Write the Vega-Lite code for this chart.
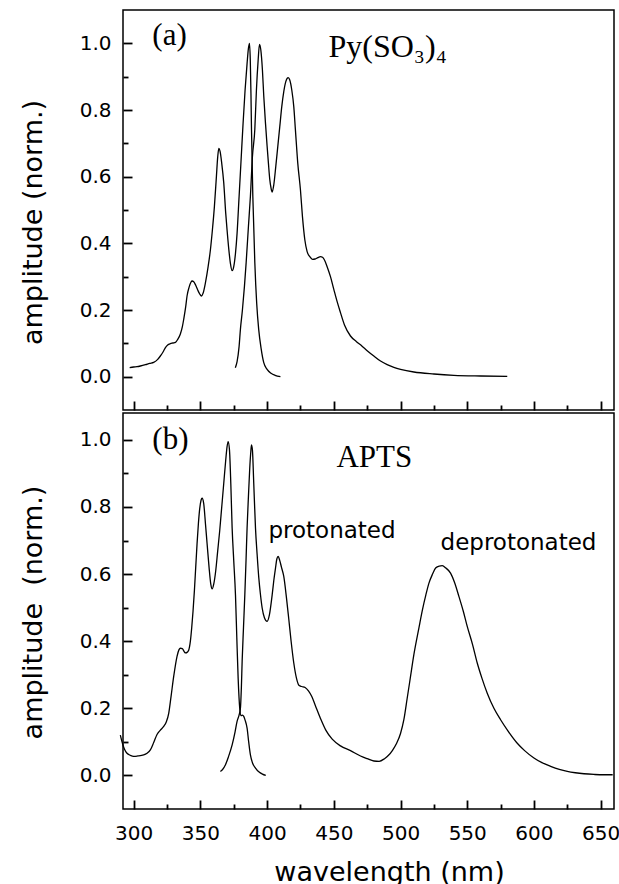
{
"$schema": "https://vega.github.io/schema/vega-lite/v6.json",
"autosize": {"type": "pad"},
"padding": {"left": 18, "top": 9, "right": 0, "bottom": 12},
"background": "white",
"spacing": 0,
"config": {
  "view": {"stroke": "black", "strokeWidth": 1.5, "fill": null},
  "axis": {"domain": false, "grid": false, "ticks": true, "tickColor": "#000000", "tickOpacity": 1, "labelColor": "black", "titleColor": "black", "labelFont": "DejaVu Sans", "labelFontSize": 20, "titleFont": "DejaVu Sans", "titleFontSize": 27, "titleFontWeight": "normal", "tickWidth": 1.8, "labelFlush": false, "zindex": 2},
  "line": {"color": "black", "strokeWidth": 1.3, "interpolate": "monotone", "clip": true}
},
"datasets": {
"top": [
{"nm":297,"amp":0.027,"c":"abs"},{"nm":300,"amp":0.029,"c":"abs"},{"nm":302.5,"amp":0.03,"c":"abs"},{"nm":305,"amp":0.032,"c":"abs"},{"nm":308.8,"amp":0.036,"c":"abs"},{"nm":312,"amp":0.04,"c":"abs"},{"nm":315,"amp":0.043,"c":"abs"},{"nm":318,"amp":0.052,"c":"abs"},{"nm":320,"amp":0.062,"c":"abs"},{"nm":322,"amp":0.074,"c":"abs"},{"nm":323.8,"amp":0.087,"c":"abs"},{"nm":325.5,"amp":0.095,"c":"abs"},{"nm":327.5,"amp":0.099,"c":"abs"},{"nm":329.5,"amp":0.101,"c":"abs"},{"nm":331.3,"amp":0.103,"c":"abs"},{"nm":333,"amp":0.112,"c":"abs"},{"nm":335,"amp":0.128,"c":"abs"},{"nm":336.5,"amp":0.15,"c":"abs"},{"nm":337.5,"amp":0.172,"c":"abs"},{"nm":339,"amp":0.21,"c":"abs"},{"nm":340,"amp":0.242,"c":"abs"},{"nm":341.5,"amp":0.268,"c":"abs"},{"nm":343,"amp":0.284,"c":"abs"},{"nm":343.8,"amp":0.287,"c":"abs"},{"nm":345,"amp":0.285,"c":"abs"},{"nm":346.5,"amp":0.274,"c":"abs"},{"nm":348,"amp":0.26,"c":"abs"},{"nm":349.5,"amp":0.248,"c":"abs"},{"nm":350.8,"amp":0.242,"c":"abs"},{"nm":352,"amp":0.25,"c":"abs"},{"nm":353.8,"amp":0.282,"c":"abs"},{"nm":355.8,"amp":0.33,"c":"abs"},{"nm":357.5,"amp":0.38,"c":"abs"},{"nm":359,"amp":0.44,"c":"abs"},{"nm":360.5,"amp":0.51,"c":"abs"},{"nm":362,"amp":0.6,"c":"abs"},{"nm":363,"amp":0.66,"c":"abs"},{"nm":363.8,"amp":0.685,"c":"abs"},{"nm":364.8,"amp":0.675,"c":"abs"},{"nm":366,"amp":0.64,"c":"abs"},{"nm":367.5,"amp":0.582,"c":"abs"},{"nm":369,"amp":0.49,"c":"abs"},{"nm":370,"amp":0.44,"c":"abs"},{"nm":371.3,"amp":0.382,"c":"abs"},{"nm":372.5,"amp":0.34,"c":"abs"},{"nm":373.8,"amp":0.318,"c":"abs"},{"nm":375,"amp":0.33,"c":"abs"},{"nm":376.3,"amp":0.37,"c":"abs"},{"nm":377.5,"amp":0.43,"c":"abs"},{"nm":379,"amp":0.54,"c":"abs"},{"nm":380.5,"amp":0.65,"c":"abs"},{"nm":382,"amp":0.76,"c":"abs"},{"nm":383.5,"amp":0.86,"c":"abs"},{"nm":385,"amp":0.94,"c":"abs"},{"nm":386,"amp":0.985,"c":"abs"},{"nm":386.8,"amp":1.0,"c":"abs"},{"nm":387.4,"amp":0.95,"c":"abs"},{"nm":387.9,"amp":0.85,"c":"abs"},{"nm":388.3,"amp":0.742,"c":"abs"},{"nm":389.3,"amp":0.542,"c":"abs"},{"nm":390.8,"amp":0.342,"c":"abs"},{"nm":392.2,"amp":0.22,"c":"abs"},{"nm":393.7,"amp":0.142,"c":"abs"},{"nm":395.5,"amp":0.085,"c":"abs"},{"nm":397.5,"amp":0.042,"c":"abs"},{"nm":400,"amp":0.022,"c":"abs"},{"nm":403,"amp":0.01,"c":"abs"},{"nm":406,"amp":0.004,"c":"abs"},{"nm":410,"amp":0.0,"c":"abs"},
{"nm":376.2,"amp":0.027,"c":"em"},{"nm":377.5,"amp":0.045,"c":"em"},{"nm":379,"amp":0.09,"c":"em"},{"nm":380,"amp":0.142,"c":"em"},{"nm":381.5,"amp":0.2,"c":"em"},{"nm":383,"amp":0.27,"c":"em"},{"nm":384.3,"amp":0.342,"c":"em"},{"nm":386,"amp":0.45,"c":"em"},{"nm":387.5,"amp":0.542,"c":"em"},{"nm":389,"amp":0.66,"c":"em"},{"nm":390.8,"amp":0.742,"c":"em"},{"nm":392,"amp":0.86,"c":"em"},{"nm":393.3,"amp":0.95,"c":"em"},{"nm":394.3,"amp":0.997,"c":"em"},{"nm":395.3,"amp":0.98,"c":"em"},{"nm":396.5,"amp":0.92,"c":"em"},{"nm":397.5,"amp":0.842,"c":"em"},{"nm":398.8,"amp":0.76,"c":"em"},{"nm":400,"amp":0.692,"c":"em"},{"nm":401,"amp":0.64,"c":"em"},{"nm":402,"amp":0.592,"c":"em"},{"nm":403,"amp":0.565,"c":"em"},{"nm":403.8,"amp":0.554,"c":"em"},{"nm":405,"amp":0.575,"c":"em"},{"nm":406.5,"amp":0.63,"c":"em"},{"nm":408,"amp":0.69,"c":"em"},{"nm":409.5,"amp":0.75,"c":"em"},{"nm":411,"amp":0.81,"c":"em"},{"nm":412.5,"amp":0.855,"c":"em"},{"nm":414,"amp":0.885,"c":"em"},{"nm":415.8,"amp":0.897,"c":"em"},{"nm":417,"amp":0.89,"c":"em"},{"nm":418.5,"amp":0.86,"c":"em"},{"nm":420,"amp":0.81,"c":"em"},{"nm":421.2,"amp":0.742,"c":"em"},{"nm":423,"amp":0.64,"c":"em"},{"nm":425,"amp":0.56,"c":"em"},{"nm":426.5,"amp":0.48,"c":"em"},{"nm":428.3,"amp":0.41,"c":"em"},{"nm":430,"amp":0.375,"c":"em"},{"nm":432,"amp":0.36,"c":"em"},{"nm":434,"amp":0.352,"c":"em"},{"nm":436,"amp":0.353,"c":"em"},{"nm":438,"amp":0.357,"c":"em"},{"nm":440,"amp":0.36,"c":"em"},{"nm":441.5,"amp":0.358,"c":"em"},{"nm":443,"amp":0.35,"c":"em"},{"nm":445,"amp":0.33,"c":"em"},{"nm":447.5,"amp":0.3,"c":"em"},{"nm":450,"amp":0.262,"c":"em"},{"nm":452.5,"amp":0.225,"c":"em"},{"nm":455,"amp":0.192,"c":"em"},{"nm":458,"amp":0.155,"c":"em"},{"nm":462.5,"amp":0.122,"c":"em"},{"nm":467,"amp":0.105,"c":"em"},{"nm":471,"amp":0.092,"c":"em"},{"nm":475,"amp":0.078,"c":"em"},{"nm":480,"amp":0.062,"c":"em"},{"nm":485,"amp":0.047,"c":"em"},{"nm":490,"amp":0.036,"c":"em"},{"nm":495,"amp":0.028,"c":"em"},{"nm":500,"amp":0.022,"c":"em"},{"nm":510,"amp":0.014,"c":"em"},{"nm":525,"amp":0.008,"c":"em"},{"nm":540,"amp":0.004,"c":"em"},{"nm":560,"amp":0.002,"c":"em"},{"nm":580,"amp":0.001,"c":"em"}
],
"bottom": [
{"nm":290,"amp":0.12,"c":"abs"},{"nm":292,"amp":0.09,"c":"abs"},{"nm":293.5,"amp":0.075,"c":"abs"},{"nm":295,"amp":0.066,"c":"abs"},{"nm":297.5,"amp":0.06,"c":"abs"},{"nm":300,"amp":0.057,"c":"abs"},{"nm":303,"amp":0.058,"c":"abs"},{"nm":307.5,"amp":0.061,"c":"abs"},{"nm":310,"amp":0.066,"c":"abs"},{"nm":312.5,"amp":0.076,"c":"abs"},{"nm":315,"amp":0.098,"c":"abs"},{"nm":317.5,"amp":0.122,"c":"abs"},{"nm":320,"amp":0.135,"c":"abs"},{"nm":322.5,"amp":0.146,"c":"abs"},{"nm":324.5,"amp":0.16,"c":"abs"},{"nm":326.3,"amp":0.186,"c":"abs"},{"nm":328,"amp":0.235,"c":"abs"},{"nm":330,"amp":0.295,"c":"abs"},{"nm":332.5,"amp":0.355,"c":"abs"},{"nm":334,"amp":0.375,"c":"abs"},{"nm":335,"amp":0.379,"c":"abs"},{"nm":336.5,"amp":0.378,"c":"abs"},{"nm":338,"amp":0.368,"c":"abs"},{"nm":339,"amp":0.365,"c":"abs"},{"nm":340.3,"amp":0.368,"c":"abs"},{"nm":341.3,"amp":0.374,"c":"abs"},{"nm":342.5,"amp":0.4,"c":"abs"},{"nm":343.5,"amp":0.44,"c":"abs"},{"nm":344.5,"amp":0.49,"c":"abs"},{"nm":345.5,"amp":0.55,"c":"abs"},{"nm":346.5,"amp":0.62,"c":"abs"},{"nm":347.5,"amp":0.69,"c":"abs"},{"nm":348.5,"amp":0.75,"c":"abs"},{"nm":349.5,"amp":0.795,"c":"abs"},{"nm":350.5,"amp":0.82,"c":"abs"},{"nm":351.3,"amp":0.826,"c":"abs"},{"nm":352.5,"amp":0.81,"c":"abs"},{"nm":353.8,"amp":0.75,"c":"abs"},{"nm":355,"amp":0.692,"c":"abs"},{"nm":356.5,"amp":0.62,"c":"abs"},{"nm":357.8,"amp":0.57,"c":"abs"},{"nm":358.8,"amp":0.556,"c":"abs"},{"nm":360,"amp":0.57,"c":"abs"},{"nm":361.5,"amp":0.61,"c":"abs"},{"nm":363,"amp":0.67,"c":"abs"},{"nm":364.5,"amp":0.73,"c":"abs"},{"nm":366,"amp":0.8,"c":"abs"},{"nm":367.5,"amp":0.87,"c":"abs"},{"nm":369,"amp":0.94,"c":"abs"},{"nm":370,"amp":0.98,"c":"abs"},{"nm":370.8,"amp":0.995,"c":"abs"},{"nm":371.8,"amp":0.97,"c":"abs"},{"nm":372.8,"amp":0.87,"c":"abs"},{"nm":373.8,"amp":0.737,"c":"abs"},{"nm":375,"amp":0.64,"c":"abs"},{"nm":376.3,"amp":0.538,"c":"abs"},{"nm":377.3,"amp":0.41,"c":"abs"},{"nm":378.3,"amp":0.29,"c":"abs"},{"nm":379.5,"amp":0.2,"c":"abs"},{"nm":380.5,"amp":0.178,"c":"abs"},{"nm":381.5,"amp":0.18,"c":"abs"},{"nm":382.5,"amp":0.176,"c":"abs"},{"nm":383.5,"amp":0.165,"c":"abs"},{"nm":385,"amp":0.141,"c":"abs"},{"nm":386.2,"amp":0.1,"c":"abs"},{"nm":387.5,"amp":0.061,"c":"abs"},{"nm":389,"amp":0.038,"c":"abs"},{"nm":391.3,"amp":0.022,"c":"abs"},{"nm":394,"amp":0.01,"c":"abs"},{"nm":396.5,"amp":0.004,"c":"abs"},{"nm":399,"amp":0.0,"c":"abs"},
{"nm":365,"amp":0.012,"c":"em"},{"nm":366.5,"amp":0.017,"c":"em"},{"nm":368.8,"amp":0.032,"c":"em"},{"nm":371,"amp":0.055,"c":"em"},{"nm":373.8,"amp":0.091,"c":"em"},{"nm":376,"amp":0.13,"c":"em"},{"nm":377.5,"amp":0.161,"c":"em"},{"nm":379,"amp":0.18,"c":"em"},{"nm":380,"amp":0.2,"c":"em"},{"nm":380.7,"amp":0.26,"c":"em"},{"nm":381.3,"amp":0.34,"c":"em"},{"nm":382.3,"amp":0.44,"c":"em"},{"nm":383.3,"amp":0.538,"c":"em"},{"nm":384.2,"amp":0.64,"c":"em"},{"nm":385,"amp":0.737,"c":"em"},{"nm":386,"amp":0.83,"c":"em"},{"nm":387,"amp":0.916,"c":"em"},{"nm":387.7,"amp":0.96,"c":"em"},{"nm":388.3,"amp":0.985,"c":"em"},{"nm":389,"amp":0.97,"c":"em"},{"nm":390,"amp":0.87,"c":"em"},{"nm":391.3,"amp":0.737,"c":"em"},{"nm":392.5,"amp":0.66,"c":"em"},{"nm":393.8,"amp":0.588,"c":"em"},{"nm":395,"amp":0.54,"c":"em"},{"nm":396.3,"amp":0.499,"c":"em"},{"nm":398,"amp":0.47,"c":"em"},{"nm":400,"amp":0.459,"c":"em"},{"nm":401.8,"amp":0.48,"c":"em"},{"nm":403.8,"amp":0.538,"c":"em"},{"nm":405,"amp":0.58,"c":"em"},{"nm":406.3,"amp":0.618,"c":"em"},{"nm":407.3,"amp":0.645,"c":"em"},{"nm":408.3,"amp":0.653,"c":"em"},{"nm":409.5,"amp":0.64,"c":"em"},{"nm":410.8,"amp":0.62,"c":"em"},{"nm":412.5,"amp":0.593,"c":"em"},{"nm":414.5,"amp":0.53,"c":"em"},{"nm":416.3,"amp":0.464,"c":"em"},{"nm":418,"amp":0.4,"c":"em"},{"nm":420,"amp":0.335,"c":"em"},{"nm":422,"amp":0.29,"c":"em"},{"nm":424,"amp":0.268,"c":"em"},{"nm":426,"amp":0.265,"c":"em"},{"nm":428.5,"amp":0.262,"c":"em"},{"nm":431,"amp":0.252,"c":"em"},{"nm":433.5,"amp":0.235,"c":"em"},{"nm":436,"amp":0.21,"c":"em"},{"nm":440,"amp":0.17,"c":"em"},{"nm":444,"amp":0.135,"c":"em"},{"nm":448.8,"amp":0.108,"c":"em"},{"nm":455,"amp":0.088,"c":"em"},{"nm":462.5,"amp":0.074,"c":"em"},{"nm":470,"amp":0.058,"c":"em"},{"nm":475,"amp":0.05,"c":"em"},{"nm":480,"amp":0.043,"c":"em"},{"nm":484,"amp":0.042,"c":"em"},{"nm":488,"amp":0.05,"c":"em"},{"nm":491,"amp":0.06,"c":"em"},{"nm":494,"amp":0.075,"c":"em"},{"nm":497,"amp":0.095,"c":"em"},{"nm":500,"amp":0.125,"c":"em"},{"nm":502.5,"amp":0.166,"c":"em"},{"nm":505,"amp":0.23,"c":"em"},{"nm":507.5,"amp":0.295,"c":"em"},{"nm":510,"amp":0.36,"c":"em"},{"nm":513.8,"amp":0.44,"c":"em"},{"nm":516.5,"amp":0.495,"c":"em"},{"nm":519,"amp":0.538,"c":"em"},{"nm":521.3,"amp":0.573,"c":"em"},{"nm":524,"amp":0.6,"c":"em"},{"nm":526.3,"amp":0.618,"c":"em"},{"nm":529,"amp":0.624,"c":"em"},{"nm":531.3,"amp":0.625,"c":"em"},{"nm":534,"amp":0.618,"c":"em"},{"nm":537.5,"amp":0.603,"c":"em"},{"nm":540.5,"amp":0.575,"c":"em"},{"nm":543.8,"amp":0.533,"c":"em"},{"nm":547,"amp":0.49,"c":"em"},{"nm":550,"amp":0.444,"c":"em"},{"nm":554,"amp":0.39,"c":"em"},{"nm":557.5,"amp":0.335,"c":"em"},{"nm":561,"amp":0.29,"c":"em"},{"nm":565,"amp":0.245,"c":"em"},{"nm":570,"amp":0.2,"c":"em"},{"nm":575,"amp":0.166,"c":"em"},{"nm":581,"amp":0.13,"c":"em"},{"nm":587.5,"amp":0.096,"c":"em"},{"nm":593,"amp":0.074,"c":"em"},{"nm":600,"amp":0.052,"c":"em"},{"nm":606,"amp":0.038,"c":"em"},{"nm":612.5,"amp":0.027,"c":"em"},{"nm":619,"amp":0.018,"c":"em"},{"nm":625,"amp":0.012,"c":"em"},{"nm":631,"amp":0.008,"c":"em"},{"nm":637.5,"amp":0.005,"c":"em"},{"nm":645,"amp":0.003,"c":"em"},{"nm":652,"amp":0.002,"c":"em"},{"nm":659,"amp":0.002,"c":"em"}
]
},
"vconcat": [
{
  "width": 491, "height": 400,
  "data": {"name": "top"},
  "resolve": {"axis": {"x": "independent", "y": "independent"}},
  "layer": [
    {"mark": "line", "encoding": {
      "x": {"field": "nm", "type": "quantitative", "scale": {"domain": [292, 660], "nice": false, "zero": false},
            "axis": {"orient": "bottom", "values": [300,350,400,450,500,550,600,650], "ticks": true, "tickSize": 9, "offset": -9, "labels": false, "title": null}},
      "y": {"field": "amp", "type": "quantitative", "scale": {"domain": [-0.1, 1.1], "nice": false, "zero": false},
            "axis": {"orient": "left", "values": [0,0.2,0.4,0.6,0.8,1.0], "ticks": true, "format": ".1f", "tickSize": 9, "offset": -9, "labelPadding": 12, "title": "amplitude (norm.)", "titleX": -91, "titleY": 212, "titleAngle": 270, "titleBaseline": "alphabetic", "titleAlign": "center"}},
      "detail": {"field": "c"}}},
    {"mark": {"type": "line", "strokeOpacity": 0}, "encoding": {
      "x": {"field": "nm", "type": "quantitative", "scale": {"domain": [292, 660], "nice": false, "zero": false},
            "axis": {"orient": "bottom", "values": [325,375,425,475,525,575,625], "ticks": true, "tickSize": 5, "offset": -5, "labels": false, "title": null}},
      "y": {"field": "amp", "type": "quantitative", "scale": {"domain": [-0.1, 1.1], "nice": false, "zero": false},
            "axis": {"orient": "left", "values": [0.1,0.3,0.5,0.7,0.9], "ticks": true, "tickSize": 5, "offset": -5, "labels": false, "title": null}},
      "detail": {"field": "c"}}},
    {"data": {"values": [{}]}, "mark": {"type": "text", "font": "Liberation Serif", "fontSize": 31, "align": "left", "baseline": "alphabetic", "color": "black"},
     "encoding": {"x": {"datum": 314, "type": "quantitative", "axis": null}, "y": {"datum": 0.994, "type": "quantitative", "axis": null}, "text": {"value": "(a)"}}},
    {"data": {"values": [{}]}, "mark": {"type": "text", "font": "Liberation Serif", "fontSize": 32, "align": "left", "baseline": "alphabetic", "color": "black"},
     "encoding": {"x": {"datum": 446, "type": "quantitative", "axis": null}, "y": {"datum": 0.958, "type": "quantitative", "axis": null}, "text": {"value": "Py(SO₃)₄"}}}
  ]
},
{
  "width": 491, "height": 396,
  "data": {"name": "bottom"},
  "resolve": {"axis": {"x": "independent", "y": "independent"}},
  "layer": [
    {"mark": "line", "encoding": {
      "x": {"field": "nm", "type": "quantitative", "scale": {"domain": [292, 660], "nice": false, "zero": false},
            "axis": {"orient": "bottom", "values": [300,350,400,450,500,550,600,650], "ticks": true, "tickSize": 9, "offset": -9, "labelPadding": 14, "title": "wavelength (nm)", "titleX": 266, "titleY": 80, "titleBaseline": "alphabetic", "titleAlign": "center"}},
      "y": {"field": "amp", "type": "quantitative", "scale": {"domain": [-0.1, 1.08], "nice": false, "zero": false},
            "axis": {"orient": "left", "values": [0,0.2,0.4,0.6,0.8,1.0], "ticks": true, "format": ".1f", "tickSize": 9, "offset": -9, "labelPadding": 12, "title": "amplitude\u00a0 (norm.)", "titleX": -91, "titleY": 199, "titleAngle": 270, "titleBaseline": "alphabetic", "titleAlign": "center"}},
      "detail": {"field": "c"}}},
    {"mark": {"type": "line", "strokeOpacity": 0}, "encoding": {
      "x": {"field": "nm", "type": "quantitative", "scale": {"domain": [292, 660], "nice": false, "zero": false},
            "axis": {"orient": "bottom", "values": [325,375,425,475,525,575,625], "ticks": true, "tickSize": 5, "offset": -5, "labels": false, "title": null}},
      "y": {"field": "amp", "type": "quantitative", "scale": {"domain": [-0.1, 1.08], "nice": false, "zero": false},
            "axis": {"orient": "left", "values": [0.1,0.3,0.5,0.7,0.9], "ticks": true, "tickSize": 5, "offset": -5, "labels": false, "title": null}},
      "detail": {"field": "c"}}},
    {"data": {"values": [{}]}, "mark": {"type": "text", "font": "Liberation Serif", "fontSize": 31, "align": "left", "baseline": "alphabetic", "color": "black"},
     "encoding": {"x": {"datum": 314, "type": "quantitative", "axis": null}, "y": {"datum": 0.972, "type": "quantitative", "axis": null}, "text": {"value": "(b)"}}},
    {"data": {"values": [{}]}, "mark": {"type": "text", "font": "Liberation Serif", "fontSize": 31, "align": "left", "baseline": "alphabetic", "color": "black"},
     "encoding": {"x": {"datum": 452, "type": "quantitative", "axis": null}, "y": {"datum": 0.919, "type": "quantitative", "axis": null}, "text": {"value": "APTS"}}},
    {"data": {"values": [{}]}, "mark": {"type": "text", "font": "DejaVu Sans", "fontSize": 23, "align": "left", "baseline": "alphabetic", "color": "black"},
     "encoding": {"x": {"datum": 401, "type": "quantitative", "axis": null}, "y": {"datum": 0.707, "type": "quantitative", "axis": null}, "text": {"value": "protonated"}}},
    {"data": {"values": [{}]}, "mark": {"type": "text", "font": "DejaVu Sans", "fontSize": 23, "align": "left", "baseline": "alphabetic", "color": "black"},
     "encoding": {"x": {"datum": 530, "type": "quantitative", "axis": null}, "y": {"datum": 0.672, "type": "quantitative", "axis": null}, "text": {"value": "deprotonated"}}}
  ]
}
]
}
